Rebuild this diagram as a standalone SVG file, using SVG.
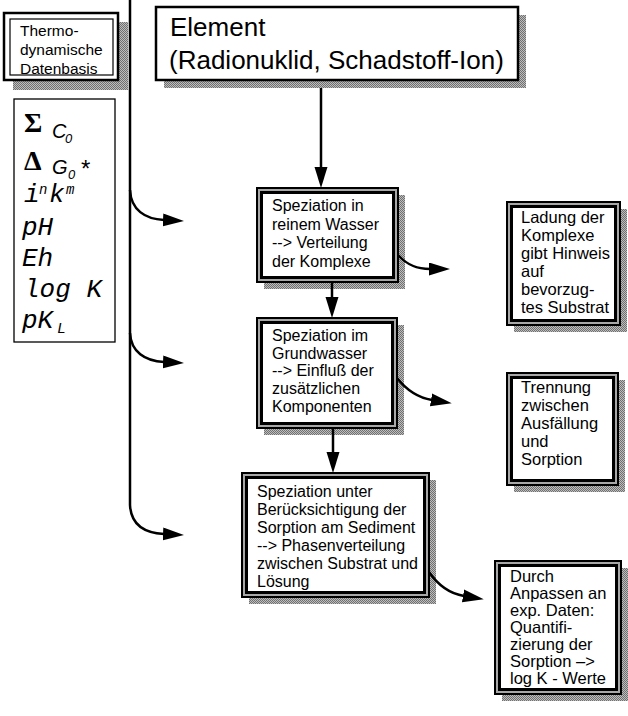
<svg xmlns="http://www.w3.org/2000/svg" width="628" height="716" viewBox="0 0 628 716">
  <style>
    .lbl { font-family: "Liberation Sans", Arial, sans-serif; fill: #000; }
    .f15 { font-size: 15.5px; }
    .f16 { font-size: 16px; }
    .f17 { font-size: 16.5px; }
    .f26 { font-size: 26px; }
    .frame-out { fill: #a8a8a8; stroke: #000; stroke-width: 2; }
    .frame-in { fill: #fff; stroke: #000; stroke-width: 3; }
    .plain { fill: #fff; stroke: #000; }
    .conn { fill: none; stroke: #000; stroke-width: 2.5; }
    .arrow { marker-end: url(#head); }
    .mono { font-family: "Liberation Mono", "Courier New", monospace; font-style: italic; fill: #000; }
    .sym { font-family: "Liberation Serif", "Times New Roman", serif; font-weight: bold; font-size: 28px; fill: #000; }
    .var { font-family: "Liberation Sans", Arial, sans-serif; font-style: italic; fill: #000; }
  </style>
  <defs>
    <!-- halftone used for the drop shadows -->
    <pattern id="halftone" x="0" y="0" width="2" height="2" patternUnits="userSpaceOnUse">
      <rect x="0" y="0" width="2" height="2" fill="#bdbdbd"/>
      <rect x="0" y="0" width="1" height="1" fill="#707070"/>
      <rect x="1" y="1" width="1" height="1" fill="#707070"/>
    </pattern>
    <marker id="head" markerUnits="userSpaceOnUse" markerWidth="22" markerHeight="14" refX="1" refY="6.5" orient="auto">
      <path d="M0,0 L21,6.5 L0,13 Z" fill="#000"/>
    </marker>
  </defs>

  <rect width="628" height="716" fill="#fff"/>

  <!-- thermodynamic data base -->
  <g id="node-thermo">
    <rect fill="url(#halftone)" x="13" y="22" width="115" height="68"/>
    <rect class="plain" x="4" y="13" width="114" height="67" stroke-width="2.5"/>
    <rect fill="none" stroke="#000" stroke-width="1.2" x="10" y="19" width="103" height="56"/>
    <text class="lbl f15" x="20" y="36">Thermo-</text>
    <text class="lbl f15" x="20" y="55">dynamische</text>
    <text class="lbl f15" x="20" y="74">Datenbasis</text>
  </g>

  <!-- parameter list -->
  <g id="node-params">
    <rect class="plain" x="14" y="99" width="101" height="243" stroke-width="1.3"/>
    <text class="sym" x="24" y="132">Σ</text>
    <text class="var" x="52" y="138" font-size="20">C</text>
    <text class="var" x="65" y="143" font-size="13">0</text>
    <text class="sym" x="24" y="170">Δ</text>
    <text class="var" x="52" y="174" font-size="20">G</text>
    <text class="var" x="68" y="179" font-size="13">0</text>
    <text class="var" x="80" y="177" font-size="24" font-style="normal">*</text>
    <text class="mono" x="24" y="202" font-size="26">i</text>
    <text class="mono" x="39" y="194" font-size="14">n</text>
    <text class="mono" x="49" y="202" font-size="26">k</text>
    <text class="mono" x="66" y="194" font-size="14">m</text>
    <text class="mono" x="22" y="235" font-size="26">pH</text>
    <text class="mono" x="22" y="266" font-size="26">Eh</text>
    <text class="mono" x="24" y="297" font-size="26">log K</text>
    <text class="mono" x="22" y="328" font-size="26">pK</text>
    <text class="mono" x="57" y="333" font-size="15">L</text>
  </g>

  <!-- element -->
  <g id="node-element">
    <rect fill="url(#halftone)" x="164" y="15" width="362" height="73"/>
    <rect class="plain" x="156" y="7" width="362" height="73" stroke-width="2.5"/>
    <text class="lbl f26" x="170" y="36">Element</text>
    <text class="lbl f26" x="169" y="69">(Radionuklid, Schadstoff-Ion)</text>
  </g>

  <!-- speciation in pure water -->
  <g id="node-spec-water">
    <rect fill="url(#halftone)" x="264" y="195" width="141" height="94"/>
    <rect class="frame-out" x="257" y="188" width="141" height="94"/>
    <rect class="frame-in" x="261.5" y="192.5" width="132" height="85"/>
    <text class="lbl f16" x="272" y="211">Speziation in</text>
    <text class="lbl f16" x="272" y="229.5">reinem Wasser</text>
    <text class="lbl f16" x="272" y="248">--&gt; Verteilung</text>
    <text class="lbl f16" x="272" y="266.5">der Komplexe</text>
  </g>

  <!-- speciation in groundwater -->
  <g id="node-spec-ground">
    <rect fill="url(#halftone)" x="264" y="325" width="140" height="110"/>
    <rect class="frame-out" x="257" y="318" width="140" height="110"/>
    <rect class="frame-in" x="261.5" y="322.5" width="131" height="101"/>
    <text class="lbl f16" x="272" y="341">Speziation im</text>
    <text class="lbl f16" x="272" y="358.5">Grundwasser</text>
    <text class="lbl f16" x="272" y="376">--&gt; Einfluß der</text>
    <text class="lbl f16" x="272" y="394">zusätzlichen</text>
    <text class="lbl f16" x="272" y="412">Komponenten</text>
  </g>

  <!-- speciation including sorption -->
  <g id="node-spec-sorption">
    <rect fill="url(#halftone)" x="249" y="480" width="187" height="124"/>
    <rect class="frame-out" x="242" y="473" width="187" height="124"/>
    <rect class="frame-in" x="246.5" y="477.5" width="178" height="115"/>
    <text class="lbl f16" x="257" y="497">Speziation unter</text>
    <text class="lbl f16" x="257" y="515">Berücksichtigung der</text>
    <text class="lbl f16" x="257" y="533">Sorption am Sediment</text>
    <text class="lbl f16" x="257" y="551">--&gt; Phasenverteilung</text>
    <text class="lbl f16" x="257" y="569">zwischen Substrat und</text>
    <text class="lbl f16" x="257" y="587">Lösung</text>
  </g>

  <!-- charge of complexes -->
  <g id="node-charge">
    <rect fill="url(#halftone)" x="514" y="209" width="113" height="123"/>
    <rect class="frame-out" x="507" y="202" width="113" height="123"/>
    <rect class="frame-in" x="511.5" y="206.5" width="104" height="114"/>
    <text class="lbl f17" x="521" y="222.5">Ladung der</text>
    <text class="lbl f17" x="521" y="240.5">Komplexe</text>
    <text class="lbl f17" x="521" y="258.5">gibt Hinweis</text>
    <text class="lbl f17" x="521" y="276.5">auf</text>
    <text class="lbl f17" x="521" y="294.5">bevorzug-</text>
    <text class="lbl f17" x="521" y="312.5">tes Substrat</text>
  </g>

  <!-- precipitation vs. sorption -->
  <g id="node-separation">
    <rect fill="url(#halftone)" x="514" y="380" width="111" height="112"/>
    <rect class="frame-out" x="507" y="373" width="111" height="112"/>
    <rect class="frame-in" x="511.5" y="377.5" width="102" height="103"/>
    <text class="lbl f17" x="521" y="392.5">Trennung</text>
    <text class="lbl f17" x="521" y="410.5">zwischen</text>
    <text class="lbl f17" x="521" y="428.5">Ausfällung</text>
    <text class="lbl f17" x="521" y="446.5">und</text>
    <text class="lbl f17" x="521" y="464.5">Sorption</text>
  </g>

  <!-- fitting to experimental data -->
  <g id="node-fit">
    <rect fill="url(#halftone)" x="502" y="568" width="126" height="133"/>
    <rect class="frame-out" x="495" y="561" width="126" height="133"/>
    <rect class="frame-in" x="499.5" y="565.5" width="117" height="124"/>
    <text class="lbl f17" x="510" y="582">Durch</text>
    <text class="lbl f17" x="510" y="599">Anpassen an</text>
    <text class="lbl f17" x="510" y="616">exp. Daten:</text>
    <text class="lbl f17" x="510" y="633">Quantifi-</text>
    <text class="lbl f17" x="510" y="650">zierung der</text>
    <text class="lbl f17" x="510" y="667">Sorption –&gt;</text>
    <text class="lbl f17" x="510" y="684">log K - Werte</text>
  </g>

  <!-- connectors -->
  <g id="connectors">
    <path class="conn arrow" d="M130,0 V505 C131,525 145,533 164,534"/>
    <path class="conn arrow" d="M130,190 C131,210 145,219 164,220"/>
    <path class="conn arrow" d="M130,333 C131,352 145,361 164,362"/>
    <path class="conn arrow" d="M321,88 V168"/>
    <path class="conn arrow" d="M332,282 V298"/>
    <path class="conn arrow" d="M333,428 V453"/>
    <path class="conn arrow" d="M398,255 C408,266 418,269 430,269"/>
    <path class="conn arrow" d="M397,378 C408,392 420,398 432,400"/>
    <path class="conn arrow" d="M429,572 C440,588 452,594 464,596"/>
  </g>
</svg>
